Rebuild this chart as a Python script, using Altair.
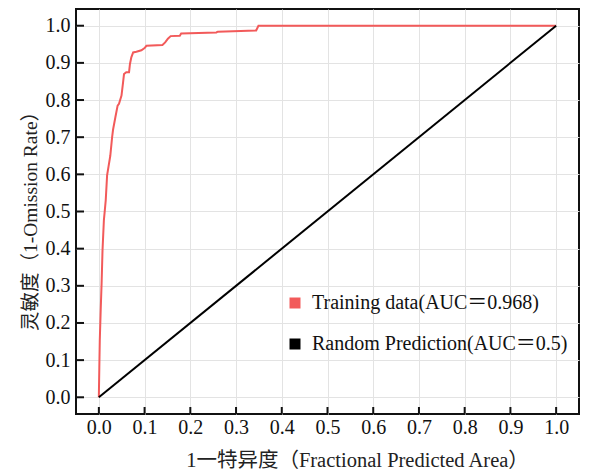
import altair as alt
import pandas as pd

# ROC curve of the training data
train_fpr = [0.0, 0.0, 0.001, 0.002, 0.004, 0.006, 0.008, 0.011, 0.013, 0.015, 0.018, 0.021,
             0.025, 0.029, 0.031, 0.036, 0.041, 0.044, 0.0495, 0.053, 0.055, 0.060, 0.066,
             0.068, 0.071, 0.075, 0.082, 0.093, 0.100, 0.104, 0.139, 0.145, 0.151, 0.157,
             0.177, 0.180, 0.257, 0.260, 0.344, 0.349, 1.0]
train_tpr = [0.0, 0.005, 0.08, 0.153, 0.234, 0.307, 0.396, 0.477, 0.503, 0.53, 0.597, 0.62,
             0.65, 0.70, 0.72, 0.753, 0.785, 0.79, 0.812, 0.848, 0.87, 0.875, 0.875,
             0.897, 0.915, 0.928, 0.93, 0.934, 0.94, 0.946, 0.948, 0.955, 0.965, 0.972,
             0.973, 0.979, 0.982, 0.984, 0.987, 1.0, 1.0]
random_fpr = [0.0, 1.0]
random_tpr = [0.0, 1.0]

series = ["Training data(AUC＝0.968)", "Random Prediction(AUC＝0.5)"]
colors = ["#f25a5a", "#000000"]
tick_values = [round(i * 0.1, 1) for i in range(11)]

rows = []
for i, (x, y) in enumerate(zip(train_fpr, train_tpr)):
    rows.append({"x": x, "y": y, "s": series[0], "o": i})
for i, (x, y) in enumerate(zip(random_fpr, random_tpr)):
    rows.append({"x": x, "y": y, "s": series[1], "o": i})
df = pd.DataFrame(rows)
ticks_df = pd.DataFrame({"t": tick_values})

SERIF = "Liberation Serif, 'Noto Sans CJK SC'"
W, H = 503, 405
xscale = alt.Scale(domain=[-0.05, 1.05], nice=False, zero=False)
yscale = alt.Scale(domain=[-0.045, 1.045], nice=False, zero=False)

lines = alt.Chart(df).mark_line(strokeWidth=2).encode(
    x=alt.X("x:Q", scale=xscale,
            axis=alt.Axis(values=tick_values, format=".1f", grid=True, ticks=False, domain=False,
                          labelPadding=3, title="1一特异度（Fractional Predicted Area）",
                          titleX=281, titleY=46, titleBaseline="middle", titleAlign="center",
                          titleFontSize=20.5)),
    y=alt.Y("y:Q", scale=yscale,
            axis=alt.Axis(values=tick_values, format=".1f", grid=True, ticks=False, domain=False,
                          labelPadding=6, title="灵敏度（1-Omission Rate）",
                          titleX=-46, titleY=207, titleBaseline="middle", titleAlign="center",
                          titleAngle=270, titleFontSize=19.5)),
    color=alt.Color("s:N", scale=alt.Scale(domain=series, range=colors),
                    legend=alt.Legend(title=None, orient="none", legendX=209, legendY=284,
                                      symbolType="square", symbolSize=1, symbolStrokeWidth=10,
                                      symbolOpacity=1,
                                      labelOffset=7, rowPadding=-1, padding=0,
                                      labelFont=SERIF, labelFontSize=20, labelColor="#111",
                                      labelLimit=400)),
    order="o:Q",
)

xticks = alt.Chart(ticks_df).mark_rule(color="#111", strokeWidth=2).encode(
    x=alt.X("t:Q", scale=xscale), y=alt.value(H), y2=alt.value(H - 7)
)
yticks = alt.Chart(ticks_df).mark_rule(color="#111", strokeWidth=2).encode(
    y=alt.Y("t:Q", scale=yscale), x=alt.value(0), x2=alt.value(8)
)

chart = alt.layer(lines, xticks, yticks).properties(
    width=W, height=H,
    autosize=alt.AutoSizeParams(type="none"),
    padding={"left": 68, "top": 1, "right": 4, "bottom": 62},
).configure_view(stroke="#111", strokeWidth=2).configure_axis(
    labelFont=SERIF, labelFontSize=20, labelColor="#111",
    titleFont=SERIF, titleFontWeight="normal", titleColor="#222",
    gridColor="#e3e3e3", gridWidth=1,
)

chart.save("out.html", embed_options={"renderer": "svg", "actions": False})
